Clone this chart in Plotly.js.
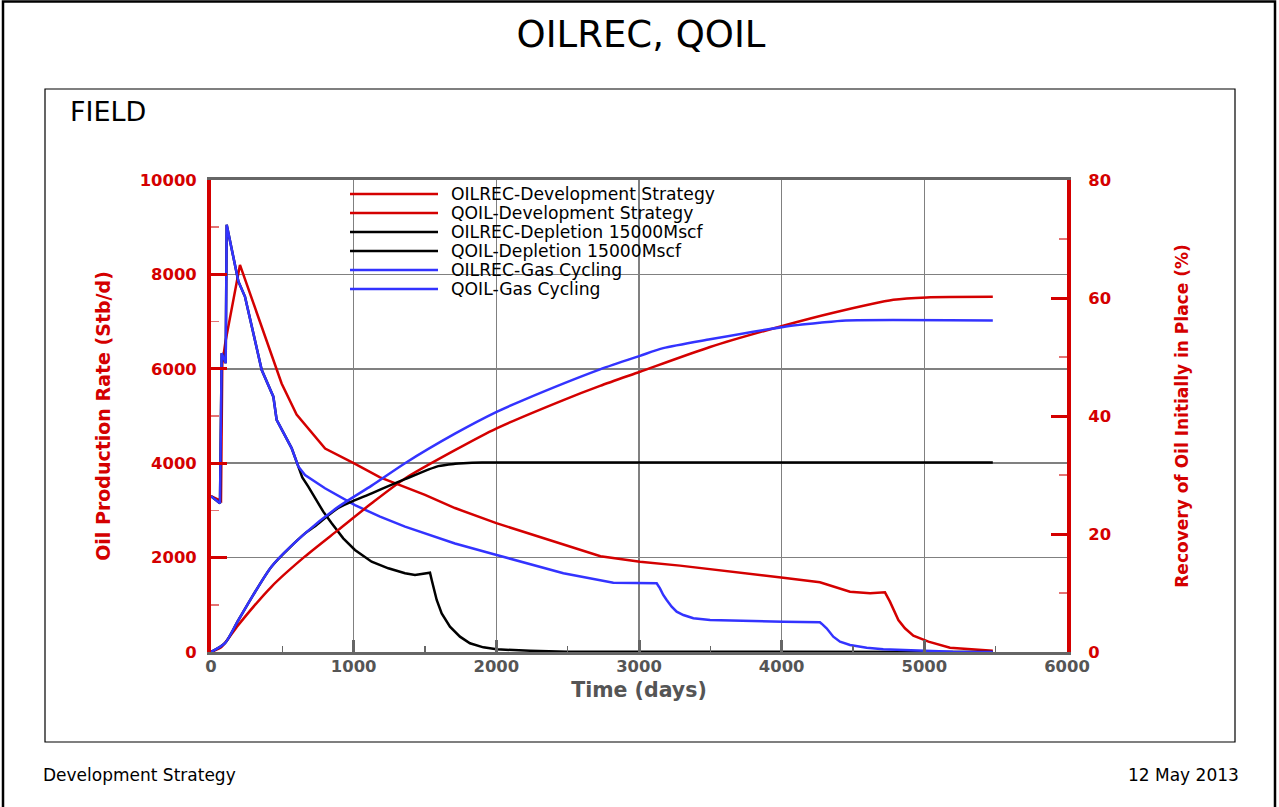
<!DOCTYPE html>
<html>
<head>
<meta charset="utf-8">
<script src="https://cdn.plot.ly/plotly-3.0.1.min.js"></script>
<style>html,body{margin:0;padding:0;background:#fff;}</style>
</head>
<body>
<div id="chart" style="width:1279px;height:807px;"></div>
<script>
// ---- Data ----
// Development Strategy
const devQoilDays = [0, 70, 79, 100, 203, 495, 600, 800, 1000, 1185, 1500, 1710, 2000, 2730, 3007, 3287, 4011, 4268, 4479, 4620, 4724, 4759, 4818, 4864, 4923, 5029, 5180, 5343, 5480];
const devQoil     = [3300, 3200, 6100, 6550, 8200, 5690, 5030, 4310, 4000, 3700, 3330, 3050, 2730, 2030, 1910, 1830, 1575, 1476, 1278, 1243, 1264, 1067, 678, 502, 346, 219, 92, 57, 25];
const devRecDays  = [0, 75, 192, 425, 659, 892, 1126, 1360, 1710, 2002, 2470, 2727, 3007, 3498, 4011, 4362, 4783, 5016, 5480];
const devRec      = [0, 0.9, 4.6, 11.1, 16.2, 20.7, 25.2, 29.4, 34.2, 37.9, 42.7, 45.1, 47.5, 51.7, 55.3, 57.5, 59.7, 60.1, 60.2];
// Depletion 15000Mscf
const depQoilDays = [0, 63, 75, 103, 110, 192, 238, 355, 437, 460, 565, 612, 640, 682, 729, 787, 846, 927, 1009, 1126, 1243, 1360, 1430, 1523, 1535, 1547, 1582, 1617, 1675, 1745, 1815, 1909, 2002, 2236, 2500, 5480];
const depQoil     = [3300, 3150, 6330, 6120, 9050, 7850, 7530, 5980, 5410, 4920, 4320, 3930, 3700, 3503, 3256, 2973, 2726, 2408, 2161, 1914, 1773, 1667, 1631, 1681, 1681, 1525, 1102, 819, 537, 325, 184, 99, 56, 28, 5, 0];
const depRecDays  = [0, 98, 192, 425, 659, 729, 892, 1126, 1360, 1593, 1710, 1768, 1900, 5480];
const depRec      = [0, 1.5, 5.4, 14.5, 20.1, 21.3, 24.4, 26.9, 29.3, 31.5, 31.9, 32.0, 32.1, 32.1];
// Gas Cycling
const gasQoilDays = [0, 63, 75, 103, 110, 192, 238, 355, 437, 460, 565, 612, 659, 799, 1009, 1185, 1360, 1710, 2002, 2470, 2820, 3100, 3124, 3147, 3170, 3194, 3229, 3264, 3311, 3381, 3498, 4011, 4268, 4280, 4315, 4362, 4409, 4479, 4596, 4712, 4946, 5200, 5480];
const gasQoil     = [3300, 3150, 6330, 6120, 9050, 7850, 7530, 5980, 5410, 4920, 4320, 3930, 3750, 3470, 3110, 2870, 2655, 2300, 2055, 1667, 1469, 1469, 1455, 1349, 1208, 1102, 960, 854, 784, 714, 678, 642, 629, 600, 502, 325, 219, 148, 92, 57, 35, 5, 0];
const gasRecDays  = [0, 98, 192, 425, 659, 892, 1126, 1360, 1710, 2002, 2189, 2727, 3007, 3170, 3498, 4011, 4268, 4450, 5480];
const gasRec      = [0, 1.5, 5.4, 14.5, 20.1, 24.6, 28.2, 32.0, 37.0, 40.7, 42.7, 47.9, 50.2, 51.5, 53.0, 55.1, 55.8, 56.2, 56.2];

const legendNames = ['OILREC-Development Strategy', 'QOIL-Development Strategy', 'OILREC-Depletion 15000Mscf', 'QOIL-Depletion 15000Mscf', 'OILREC-Gas Cycling', 'QOIL-Gas Cycling'];

const RED = '#d40000', BLACK = '#000000', BLUE = '#3333ff';
const FONT = 'DejaVu Sans';
const LW = 2.5;

function tr(x, y, name, color, axis, smooth) {
  const line = {color: color, width: LW};
  if (smooth) { line.shape = 'spline'; line.smoothing = 0.7; }
  return {x: x, y: y, name: name, type: 'scatter', mode: 'lines', yaxis: axis,
          line: line, showlegend: false, hoverinfo: 'skip'};
}
const traces = [
  tr(devRecDays, devRec, legendNames[0], RED, 'y2', true),
  tr(devQoilDays, devQoil, legendNames[1], RED, 'y', false),
  tr(depRecDays, depRec, legendNames[2], BLACK, 'y2', true),
  tr(depQoilDays, depQoil, legendNames[3], BLACK, 'y', false),
  tr(gasRecDays, gasRec, legendNames[4], BLUE, 'y2', true),
  tr(gasQoilDays, gasQoil, legendNames[5], BLUE, 'y', false)
];
const legendColors = [RED, RED, BLACK, BLACK, BLUE, BLUE];

// plot area: left 211, right 1067, top 180, bottom 652 (px)
const L = 211, R = 1067, T = 180, B = 652, W = R - L, H = B - T;
const px = v => (v - L) / W;
const py = v => (B - v) / H;

const shapes = [
  {type: 'rect', xref: 'paper', yref: 'paper', x0: px(3), x1: px(1275), y0: py(830), y1: py(1.5), line: {color: '#000', width: 2.5}, layer: 'below'},
  {type: 'rect', xref: 'paper', yref: 'paper', x0: px(45), x1: px(1235), y0: py(742), y1: py(89), line: {color: '#000', width: 1.2}, layer: 'below'}
];
const annotations = [
  {text: 'FIELD', xref: 'paper', yref: 'paper', x: px(68), y: py(111), xanchor: 'left', yanchor: 'middle', showarrow: false, font: {family: FONT, size: 27, color: '#000'}},
  {text: 'Development Strategy', xref: 'paper', yref: 'paper', x: px(41), y: py(775), xanchor: 'left', yanchor: 'middle', showarrow: false, font: {family: FONT, size: 17, color: '#000'}},
  {text: '12 May 2013', xref: 'paper', yref: 'paper', x: px(1241), y: py(775), xanchor: 'right', yanchor: 'middle', showarrow: false, font: {family: FONT, size: 17, color: '#000'}}
];
const legendRows = [194, 213, 232, 251, 270, 289];
legendNames.forEach((n, i) => {
  shapes.push({type: 'line', xref: 'paper', yref: 'paper', x0: px(350), x1: px(438), y0: py(legendRows[i]), y1: py(legendRows[i]), line: {color: legendColors[i], width: LW}});
  annotations.push({text: n, xref: 'paper', yref: 'paper', x: px(449), y: py(legendRows[i]), xanchor: 'left', yanchor: 'middle', showarrow: false, font: {family: FONT, size: 17.2, color: '#000'}});
});

const layout = {
  width: 1279, height: 807,
  margin: {l: L, r: 1279 - R, t: T, b: 807 - B, pad: 0},
  paper_bgcolor: '#fff', plot_bgcolor: '#fff',
  showlegend: false,
  title: {text: 'OILREC, QOIL', font: {family: FONT, size: 37, color: '#000'}, xref: 'container', yref: 'container', x: 641 / 1279, xanchor: 'center', y: 1 - 34 / 807, yanchor: 'middle'},
  xaxis: {
    range: [0, 6000], tick0: 0, dtick: 1000, ticks: 'inside', ticklen: 12, tickwidth: 3, tickcolor: '#666',
    showline: true, linecolor: '#666', linewidth: 3, mirror: true,
    showgrid: true, gridcolor: '#808080', gridwidth: 1.5, zeroline: false,
    minor: {dtick: 500, ticks: 'inside', ticklen: 6, tickwidth: 1.5, tickcolor: '#666', showgrid: false},
    tickfont: {family: FONT, size: 16.4, color: '#555', weight: 'bold'}, ticklabelstandoff: -3,
    title: {text: 'Time (days)', font: {family: FONT, size: 20.5, color: '#555', weight: 'bold'}, standoff: 8}
  },
  yaxis: {
    range: [0, 10000], tick0: 0, dtick: 2000, tickformat: 'd', ticks: 'inside', ticklen: 16, tickwidth: 3, tickcolor: RED,
    showline: true, linecolor: RED, linewidth: 4,
    showgrid: true, gridcolor: '#808080', gridwidth: 1.5, zeroline: false,
    minor: {dtick: 1000, ticks: 'inside', ticklen: 8, tickwidth: 1.5, tickcolor: '#e57373', showgrid: false},
    tickfont: {family: FONT, size: 16.4, color: RED, weight: 'bold'}, ticklabelstandoff: 7,
    title: {text: 'Oil Production Rate (Stb/d)', font: {family: FONT, size: 19, color: RED, weight: 'bold'}, standoff: 25}
  },
  yaxis2: {
    overlaying: 'y', side: 'right',
    range: [0, 80], tick0: 0, dtick: 20, ticks: 'inside', ticklen: 16, tickwidth: 3, tickcolor: RED,
    showline: true, linecolor: RED, linewidth: 4,
    showgrid: false, zeroline: false,
    minor: {dtick: 10, ticks: 'inside', ticklen: 8, tickwidth: 1.5, tickcolor: '#e57373', showgrid: false},
    tickfont: {family: FONT, size: 16.4, color: RED, weight: 'bold'}, ticklabelstandoff: 14,
    title: {text: 'Recovery of Oil Initially in Place (%)', font: {family: FONT, size: 17, color: RED, weight: 'bold'}, standoff: 67}
  },
  shapes: shapes,
  annotations: annotations
};

Plotly.newPlot('chart', traces, layout, {staticPlot: true, displayModeBar: false});
</script>
</body>
</html>
